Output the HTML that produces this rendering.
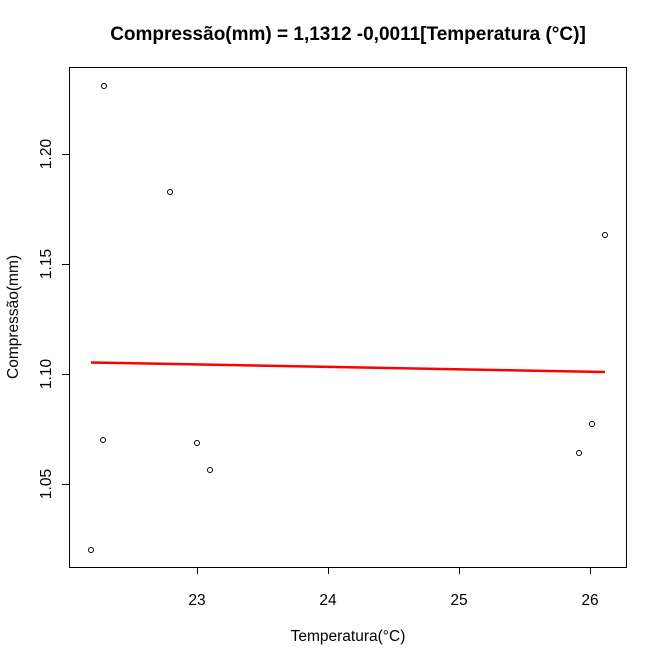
<!DOCTYPE html>
<html><head><meta charset="utf-8"><style>
body{margin:0;background:#fff}
svg{display:block}
text{font-family:"Liberation Sans",Arial,sans-serif;fill:#000}
</style></head><body>
<svg width="658" height="653" viewBox="0 0 658 653" xmlns="http://www.w3.org/2000/svg">
<rect width="658" height="653" fill="#fff"/>
<text x="348" y="40" text-anchor="middle" font-size="19" font-weight="bold">Compressão(mm) = 1,1312 -0,0011[Temperatura (°C)]</text>
<rect x="69.5" y="67.5" width="557" height="500" fill="none" stroke="#000" stroke-width="1"/>
<g stroke="#000" stroke-width="1">
<line x1="197.5" y1="567" x2="197.5" y2="574"/>
<line x1="328.5" y1="567" x2="328.5" y2="574"/>
<line x1="459.5" y1="567" x2="459.5" y2="574"/>
<line x1="590.5" y1="567" x2="590.5" y2="574"/>
<line x1="62" y1="484.5" x2="69" y2="484.5"/>
<line x1="62" y1="374.5" x2="69" y2="374.5"/>
<line x1="62" y1="264.5" x2="69" y2="264.5"/>
<line x1="62" y1="154.5" x2="69" y2="154.5"/>
</g>
<g font-size="15.5" text-anchor="middle">
<text x="197" y="605">23</text>
<text x="328" y="605">24</text>
<text x="459" y="605">25</text>
<text x="590" y="605">26</text>
<text transform="translate(51,484) rotate(-90)">1.05</text>
<text transform="translate(51,374) rotate(-90)">1.10</text>
<text transform="translate(51,264) rotate(-90)">1.15</text>
<text transform="translate(51,154) rotate(-90)">1.20</text>
<text x="348" y="641">Temperatura(°C)</text>
<text transform="translate(18,317) rotate(-90)">Compressão(mm)</text>
</g>
<line x1="91" y1="362.5" x2="605" y2="372" stroke="#f00" stroke-width="2.5"/>
<g fill="none" stroke="#000" stroke-width="1">
<circle cx="91" cy="550" r="2.5"/>
<circle cx="104" cy="86" r="2.5"/>
<circle cx="103" cy="440" r="2.5"/>
<circle cx="170" cy="192" r="2.5"/>
<circle cx="197" cy="443" r="2.5"/>
<circle cx="210" cy="470" r="2.5"/>
<circle cx="579" cy="453" r="2.5"/>
<circle cx="592" cy="424" r="2.5"/>
<circle cx="605" cy="235" r="2.5"/>
</g>
</svg>
</body></html>
